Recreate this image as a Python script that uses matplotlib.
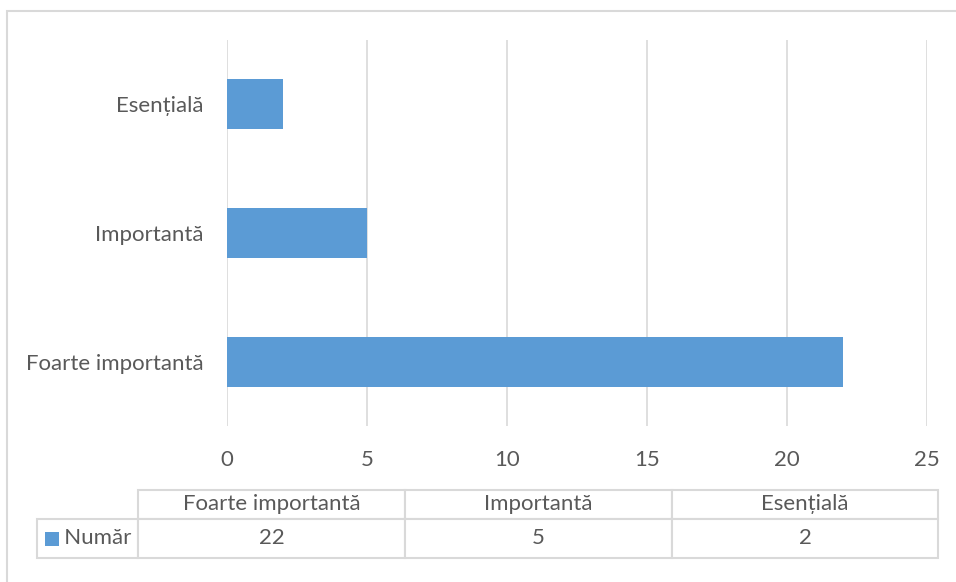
import matplotlib.pyplot as plt
from matplotlib.patches import Rectangle

# data
categories = ['Foarte importantă', 'Importantă', 'Esențială']
values = [22, 5, 2]
series_name = 'Număr'
x_ticks = [0, 5, 10, 15, 20, 25]

bar_color = '#5B9BD5'
grid_color = '#D9D9D9'
text_color = '#595959'

plt.rcParams['font.family'] = ['Lato', 'DejaVu Sans']
fs = 16

W, H = 956, 582
fig = plt.figure(figsize=(W / 100, H / 100), dpi=100)

# chart area border (runs off the right and bottom edge)
fig.patches.append(Rectangle((7 / W, -0.2), 1.2, 0.2 + 1 - 11 / H, transform=fig.transFigure,
                             facecolor='none', edgecolor=grid_color, linewidth=1.5))

ax = fig.add_axes([227 / W, 1 - 426 / H, 700 / W, 386 / H])
ypos = list(range(len(categories)))
ax.barh(ypos, values, height=0.39, color=bar_color, zorder=3)

ax.set_xlim(0, 25)
ax.set_ylim(-0.5, len(categories) - 0.5)
ax.set_xticks(x_ticks)
ax.set_yticks(ypos)
ax.set_yticklabels(categories)
ax.xaxis.grid(True, color=grid_color, linewidth=1.2)
ax.set_axisbelow(True)
for s in ax.spines.values():
    s.set_visible(False)
ax.tick_params(axis='both', length=0, labelsize=fs, labelcolor=text_color)
ax.tick_params(axis='y', pad=17)
ax.tick_params(axis='x', pad=17)

# data table under the chart
cell_text = [[''] + categories,
             ['   ' + series_name] + [str(v) for v in values]]
tbl = ax.table(cellText=cell_text, cellLoc='center',
               colWidths=[101, 267, 267, 266],
               bbox=[(37 - 227) / 700, (426 - 558) / 386, 901 / 700, 68 / 386])
tbl.auto_set_font_size(False)
tbl.set_fontsize(fs)
row_h = [29, 39]
for (r, c), cell in tbl.get_celld().items():
    cell.set_height(row_h[r])
    cell.set_edgecolor(grid_color)
    cell.set_linewidth(1.5)
    cell.get_text().set_color(text_color)
    cell.set_clip_on(False)
    if c == 0:
        cell.get_text().set_horizontalalignment('left')
tbl[0, 0].visible_edges = ''

# legend key inside the row label cell
ax.add_patch(Rectangle(((45 - 227) / 700, (426 - 546) / 386), 14 / 700, 14 / 386,
                       transform=ax.transAxes, facecolor=bar_color, edgecolor='none',
                       clip_on=False))

fig.savefig('out.png', dpi=100)
